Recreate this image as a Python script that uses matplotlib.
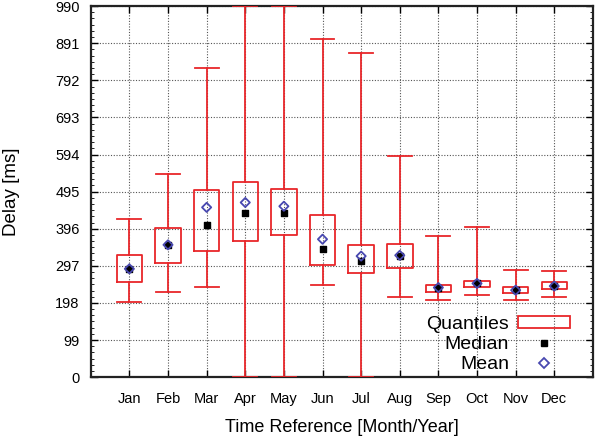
import matplotlib
matplotlib.use("Agg")
import matplotlib.pyplot as plt
from matplotlib.patches import Rectangle
from matplotlib.lines import Line2D
from matplotlib.ticker import MultipleLocator

plt.rcParams['font.family'] = ['Liberation Sans', 'DejaVu Sans']

# Dados
meses = ["Jan", "Feb", "Mar", "Apr", "May", "Jun", "Jul", "Aug", "Sep", "Oct", "Nov", "Dec"]
q1 = [254, 304, 336, 364, 378, 299, 278, 292, 227, 240, 224, 236]
q3 = [326, 397, 500, 520, 501, 432, 353, 355, 245, 256, 240, 253]
whis_lo = [200, 226, 241, 0, 0, 246, 0, 214, 205, 220, 205, 213]
whis_hi = [421, 541, 825, 990, 990, 901, 866, 589, 376, 400, 287, 284]
mediana = [289, 353, 406, 437, 437, 342, 310, 324, 239, 250, 232, 243]
media = [289, 353, 453, 466, 456, 368, 323, 325, 239, 250, 232, 243]
yticks = list(range(0, 991, 99))

vermelho = "#e8262a"
azul = "#4848b0"
posicoes = list(range(1, len(meses) + 1))

stats = []
for i in range(len(meses)):
    stats.append(dict(med=mediana[i], q1=q1[i], q3=q3[i],
                      whislo=whis_lo[i], whishi=whis_hi[i], fliers=[]))

fig = plt.figure(figsize=(6.05, 4.38), dpi=100)
ax = fig.add_axes([0.150, 0.139, 0.830, 0.847])

ax.bxp(stats, positions=posicoes, widths=0.66, showfliers=False,
       boxprops=dict(color=vermelho, linewidth=1.3),
       whiskerprops=dict(color=vermelho, linewidth=1.3),
       capprops=dict(color=vermelho, linewidth=1.3),
       medianprops=dict(visible=False), capwidths=0.62, zorder=3)

ax.scatter(posicoes, mediana, marker="s", s=16, color="black", zorder=4)
ax.scatter(posicoes, media, marker="D", s=22, facecolor="none",
           edgecolor=azul, linewidth=1.3, zorder=5)

ax.set_xlim(0, 13)
ax.set_ylim(0, 990)
ax.set_xticks(posicoes)
ax.set_xticklabels(meses)
ax.set_yticks(yticks)
ax.yaxis.set_minor_locator(MultipleLocator(16.5))
ax.tick_params(axis="both", which="both", direction="in", top=True, right=True)
ax.tick_params(axis="both", which="major", length=5, width=1, labelsize=10.5)
ax.tick_params(axis="x", which="major", pad=11)
ax.tick_params(axis="y", which="major", pad=8)
ax.tick_params(axis="y", which="minor", length=2.5)
ax.grid(True, linestyle=(0, (1, 1.5)), color="#555555", linewidth=0.8)
ax.set_axisbelow(True)
for s in ax.spines.values():
    s.set_linewidth(1.6)
    s.set_color("#222222")

ax.set_xlabel("Time Reference [Month/Year]", fontsize=13, labelpad=9)
ax.set_ylabel("Delay [ms]", fontsize=13.5, labelpad=25)

handles = [
    Rectangle((0, 0), 1, 1, facecolor="none", edgecolor=vermelho, linewidth=1.3),
    Line2D([], [], linestyle="none", marker="s", markersize=4, color="black"),
    Line2D([], [], linestyle="none", marker="D", markersize=5, markerfacecolor="none",
           markeredgecolor=azul, markeredgewidth=1.3),
]
ax.legend(handles, ["Quantiles", "Median", "Mean"], loc="lower right",
          bbox_to_anchor=(0.982, -0.026), markerfirst=False, frameon=False,
          fontsize=14, handlelength=2.7, handleheight=0.55, labelspacing=0.16,
          handletextpad=0.45, borderaxespad=0.3)

fig.savefig("out.png", dpi=100)
